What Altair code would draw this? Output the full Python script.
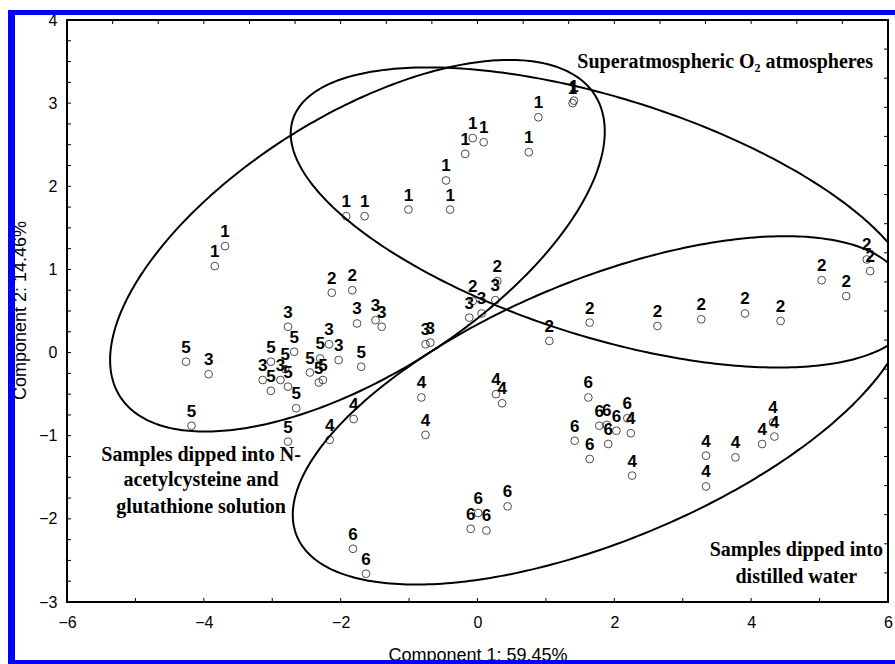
import altair as alt
import pandas as pd
import numpy as np

# ---- sample scores (Component 1, Component 2) per treatment group ----
g1_x = [-3.69, -3.84, -1.92, -1.65, -1.01, -0.40, -0.46, -0.18, -0.07, 0.09, 0.75, 0.89, 1.41, 1.39]
g1_y = [1.28, 1.04, 1.64, 1.64, 1.72, 1.72, 2.07, 2.39, 2.58, 2.53, 2.41, 2.83, 3.03, 3.00]
g2_x = [-2.13, -1.83, 0.29, -0.07, 1.05, 1.64, 2.63, 3.27, 3.91, 4.43, 5.03, 5.39, 5.69, 5.74]
g2_y = [0.72, 0.75, 0.86, 0.62, 0.14, 0.36, 0.32, 0.40, 0.47, 0.38, 0.87, 0.68, 1.12, 0.98]
g3_x = [-3.93, -2.77, -3.14, -2.88, -2.17, -2.03, -1.76, -1.49, -1.40, -0.76, -0.69, -0.12, 0.06, 0.26]
g3_y = [-0.26, 0.31, -0.33, -0.33, 0.10, -0.09, 0.35, 0.39, 0.31, 0.10, 0.12, 0.42, 0.47, 0.63]
g4_x = [-2.16, -1.81, -0.82, -0.76, 0.27, 0.36, 2.24, 2.26, 3.34, 3.77, 4.16, 4.34, 4.32, 3.34]
g4_y = [-1.05, -0.80, -0.54, -0.99, -0.50, -0.61, -0.97, -1.48, -1.24, -1.26, -1.10, -1.01, -0.84, -1.61]
g5_x = [-4.26, -4.18, -3.02, -2.81, -2.68, -3.02, -2.77, -2.65, -2.30, -2.45, -2.32, -2.26, -1.70, -2.77]
g5_y = [-0.11, -0.88, -0.11, -0.20, 0.01, -0.46, -0.41, -0.67, -0.07, -0.24, -0.36, -0.33, -0.17, -1.07]
g6_x = [1.62, 1.42, 1.64, 1.78, 2.19, 2.03, 1.91, 1.89, 0.44, 0.01, -0.10, 0.13, -1.82, -1.63]
g6_y = [-0.54, -1.06, -1.28, -0.88, -0.79, -0.94, -1.10, -0.87, -1.85, -1.93, -2.12, -2.14, -2.36, -2.66]
group_names = ["1", "2", "3", "4", "5", "6"]

# ---- confidence ellipses: centre, spreads and correlation ----
ell_names = ["NAC+GSH", "Superatmospheric O2", "Distilled water"]
ell_cx = [-1.755, 1.84, 1.80]
ell_cy = [1.285, 1.625, -0.695]
ell_sx = [3.615, 4.57, 4.50]
ell_sy = [2.235, 1.805, 2.095]
ell_rho = [0.615, -0.56, 0.60]

# ---- annotations ----
ann_text = ["Superatmospheric O\u2082 atmospheres", "Samples dipped into N-", "acetylcysteine and",
            "glutathione solution", "Samples dipped into", "distilled water"]
ann_x = [3.62, -4.04, -4.04, -4.04, 4.66, 4.66]
ann_y = [3.42, -1.30, -1.61, -1.93, -2.45, -2.77]

# ---- axis ticks ----
x_labels = [-6, -4, -2, 0, 2, 4, 6]
y_labels = [-3, -2, -1, 0, 1, 2, 3, 4]
bottom_ticks = [-5, -4, -3, -2, -1, 0, 1, 2, 3, 4, 5]
top_ticks = [-5.333, -4.667, -4, -3.333, -2.667, -2, -1.333, -0.667, 0, 0.667, 1.333, 2,
             2.667, 3.333, 4, 4.667, 5.333]
left_ticks = [-2.75, -2.5, -2.25, -2, -1.75, -1.5, -1.25, -1, -0.75, -0.5, -0.25, 0, 0.25, 0.5,
              0.75, 1, 1.25, 1.5, 1.75, 2, 2.25, 2.5, 2.75, 3, 3.25, 3.5, 3.75]
right_ticks = [3.65, 3.3, 2.95, 2.6, 2.25, 1.9, 1.55, 1.2, 0.85, 0.5, 0.15, -0.2, -0.55, -0.9,
               -1.25, -1.6, -1.95, -2.3, -2.65]

W, H = 821, 582

# build tables
xs = [g1_x, g2_x, g3_x, g4_x, g5_x, g6_x]
ys = [g1_y, g2_y, g3_y, g4_y, g5_y, g6_y]
pts = pd.DataFrame({
    "x": [v for arr in xs for v in arr],
    "y": [v for arr in ys for v in arr],
    "g": [g for g, arr in zip(group_names, xs) for _ in arr],
})

t = np.linspace(0, 2 * np.pi, 361)
rows = []
for name, cx, cy, sx, sy, r in zip(ell_names, ell_cx, ell_cy, ell_sx, ell_sy, ell_rho):
    ex = cx + sx * np.cos(t)
    ey = cy + sy * (r * np.cos(t) + np.sqrt(1 - r * r) * np.sin(t))
    for i, (a, b) in enumerate(zip(ex, ey)):
        rows.append({"e": name, "i": i, "x": a, "y": b})
ell = pd.DataFrame(rows)

ann = pd.DataFrame({"x": ann_x, "y": ann_y, "t": ann_text})

xsc = alt.Scale(domain=[-6, 6], nice=False, zero=False)
ysc = alt.Scale(domain=[-3, 4], nice=False, zero=False)

xaxis = alt.Axis(values=x_labels, format="d", ticks=False, domain=False, grid=False,
                 labelFlush=False, labelOverlap=False, labelFontSize=16,
                 labelFont="Liberation Sans", labelColor="black", labelPadding=12,
                 title="Component 1: 59.45%", titleFont="Liberation Sans", titleFontSize=18,
                 titleFontWeight="normal", titleColor="black", titleY=58,
                 titleBaseline="alphabetic")
yaxis = alt.Axis(values=y_labels, format="d", ticks=False, domain=False, grid=False,
                 labelFlush=False, labelOverlap=False, labelFontSize=16,
                 labelFont="Liberation Sans", labelColor="black", labelPadding=10,
                 title="Component 2: 14.46%", titleFont="Liberation Sans", titleFontSize=18,
                 titleFontWeight="normal", titleColor="black", titleX=-42, titleY=290,
                 titleAngle=-90, titleBaseline="alphabetic")

ellipses = alt.Chart(ell).mark_line(color="black", strokeWidth=2, clip=True).encode(
    x=alt.X("x:Q", scale=xsc, axis=xaxis),
    y=alt.Y("y:Q", scale=ysc, axis=yaxis),
    detail="e:N",
    order="i:Q",
)

points = alt.Chart(pts).mark_point(shape="circle", filled=False, size=60, color="black",
                                   strokeWidth=1).encode(x="x:Q", y="y:Q")
labels = alt.Chart(pts).mark_text(fontSize=17, font="Liberation Sans", fontWeight="bold",
                                  dy=-9, baseline="alphabetic", color="black").encode(
    x="x:Q", y="y:Q", text="g:N")

annot = alt.Chart(ann).mark_text(fontSize=20, font="Liberation Serif", fontWeight="bold",
                                 baseline="alphabetic", align="center", color="black").encode(
    x="x:Q", y="y:Q", text="t:N")

tk = dict(color="black", strokeWidth=1)
t_bottom = alt.Chart(pd.DataFrame({"v": bottom_ticks})).mark_rule(**tk).encode(
    x="v:Q", y=alt.value(H), y2=alt.value(H - 4))
t_top = alt.Chart(pd.DataFrame({"v": top_ticks})).mark_rule(**tk).encode(
    x="v:Q", y=alt.value(0), y2=alt.value(4))
t_left = alt.Chart(pd.DataFrame({"v": left_ticks})).mark_rule(**tk).encode(
    y="v:Q", x=alt.value(0), x2=alt.value(4))
t_right = alt.Chart(pd.DataFrame({"v": right_ticks})).mark_rule(**tk).encode(
    y="v:Q", x=alt.value(W), x2=alt.value(W - 4))

one = pd.DataFrame({"a": [0]})
blue = "#0000ff"
b_left = alt.Chart(one).mark_rect(color=blue).encode(
    x=alt.value(-59), x2=alt.value(-52), y=alt.value(-10), y2=alt.value(644))
b_top = alt.Chart(one).mark_rect(color=blue).encode(
    x=alt.value(-59), x2=alt.value(830), y=alt.value(-10), y2=alt.value(-5))
b_bot = alt.Chart(one).mark_rect(color=blue).encode(
    x=alt.value(-59), x2=alt.value(830), y=alt.value(640), y2=alt.value(644))

chart = alt.layer(
    ellipses, t_bottom, t_top, t_left, t_right, points, labels, annot, b_left, b_top, b_bot
).properties(
    width=W, height=H,
    padding={"left": 67, "top": 20, "right": 7, "bottom": 62},
    autosize=alt.AutoSizeParams(type="none"),
    background="white",
).configure_view(stroke="black", strokeWidth=2)

chart.save("out.html", embed_options={"renderer": "svg", "actions": False})
